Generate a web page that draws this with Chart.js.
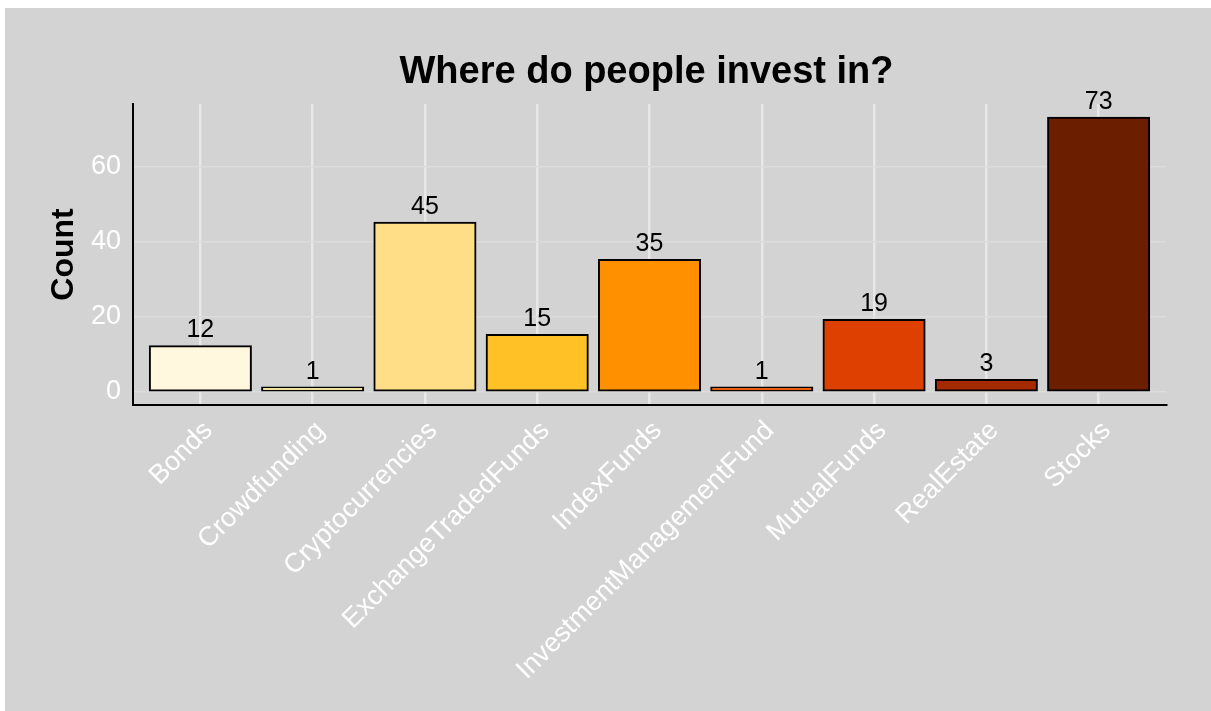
<!DOCTYPE html>
<html>
<head>
<meta charset="utf-8">
<title>Where do people invest in?</title>
<script src="https://cdn.jsdelivr.net/npm/chart.js@4.4.1/dist/chart.umd.min.js"></script>
<style>
  html, body { margin: 0; padding: 0; background: #fff; }
  #panel { position: absolute; left: 5px; top: 8px; width: 1206px; height: 703px; background: #d3d3d3; }
  canvas { display: block; }
</style>
</head>
<body>
<div id="panel"><canvas id="investChart" width="1206" height="703"></canvas></div>
<script>
// ========== Data ==========
const categories = ['Bonds', 'Crowdfunding', 'Cryptocurrencies', 'ExchangeTradedFunds', 'IndexFunds',
  'InvestmentManagementFund', 'MutualFunds', 'RealEstate', 'Stocks'];
const counts = [12, 1, 45, 15, 35, 1, 19, 3, 73];
const yTicks = [0, 20, 40, 60];

// fill colours, one per category
const barColors = ['#fff8de', '#f0e0a0', '#ffde87', '#ffc125', '#ff9000', '#e8600c', '#dd4000', '#a52a00', '#6b1e00'];

const FONT = '"Liberation Sans", Arial, Helvetica, sans-serif';
Chart.defaults.font.family = FONT;

// ========== Plugins: title + value labels ==========
const plotTitle = {
  id: 'plotTitle',
  afterDraw(chart) {
    const { ctx, chartArea } = chart;
    ctx.save();
    ctx.font = 'bold 38px ' + FONT;
    ctx.fillStyle = '#000';
    ctx.textAlign = 'center';
    ctx.textBaseline = 'alphabetic';
    ctx.fillText('Where do people invest in?', (chartArea.left + chartArea.right) / 2 - 3, 75);
    ctx.restore();
  }
};

const valueLabels = {
  id: 'valueLabels',
  afterDatasetsDraw(chart) {
    const { ctx } = chart;
    const meta = chart.getDatasetMeta(0);
    ctx.save();
    ctx.font = '25px ' + FONT;
    ctx.fillStyle = '#000';
    ctx.textAlign = 'center';
    ctx.textBaseline = 'alphabetic';
    meta.data.forEach((bar, i) => {
      ctx.fillText(String(counts[i]), bar.x, bar.y - 9);
    });
    ctx.restore();
  }
};

// ========== Chart ==========
const ctx = document.getElementById('investChart').getContext('2d');
const investChart = new Chart(ctx, {
  type: 'bar',
  data: {
    datasets: [{
      label: 'Count',
      data: counts.map((v, i) => ({ x: i, y: v })),
      backgroundColor: barColors,
      borderColor: '#000',
      borderWidth: 2,
      borderSkipped: false,
      inflateAmount: 1,
      barPercentage: 0.9,
      categoryPercentage: 1
    }]
  },
  options: {
    responsive: false,
    animation: false,
    layout: { padding: { top: 96, right: 45, bottom: 0, left: 0 } },
    plugins: {
      legend: { display: false },
      tooltip: { enabled: false }
    },
    scales: {
      x: {
        type: 'linear',
        offset: false,
        min: -0.6,
        max: 8.6,
        afterBuildTicks: s => { s.ticks = categories.map((c, i) => ({ value: i })); },
        afterFit: s => { s.height = 306; },
        grid: { color: '#e8e8e8', lineWidth: 2.5, drawTicks: false, offset: false },
        border: { color: '#000', width: 2 },
        ticks: {
          color: '#fff',
          font: { size: 27 },
          padding: 10,
          labelOffset: 8,
          autoSkip: false,
          minRotation: 45,
          maxRotation: 45,
          callback: v => categories[v]
        }
      },
      y: {
        min: -3.65,
        max: 76.65,
        afterBuildTicks: s => { s.ticks = yTicks.map(v => ({ value: v })); },
        afterFit: s => { s.width = 128; },
        grid: { color: '#dcdcdc', lineWidth: 1.5, drawTicks: false },
        border: { color: '#000', width: 2 },
        ticks: { color: '#fff', font: { size: 27 }, padding: 12 },
        title: {
          display: true,
          text: 'Count',
          color: '#000',
          font: { size: 32, weight: 'bold' },
          padding: { top: 40, bottom: 0 }
        }
      }
    }
  },
  plugins: [plotTitle, valueLabels]
});
</script>
</body>
</html>
